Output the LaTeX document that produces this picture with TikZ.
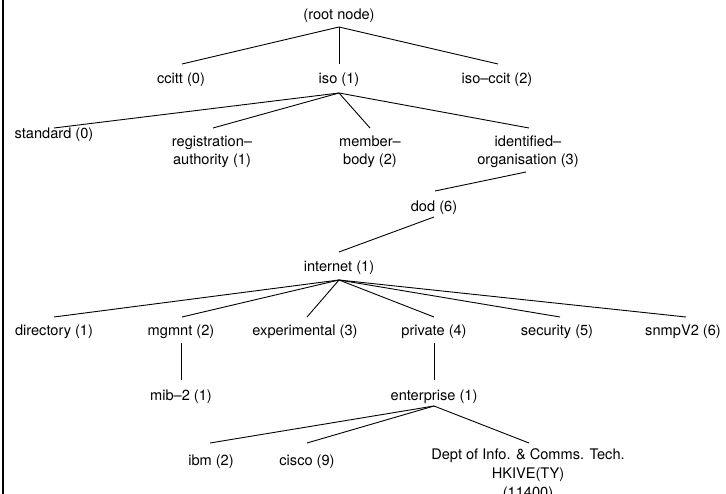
\documentclass[tikz,border=0pt]{standalone}
\usepackage{fontspec}
\setmainfont{TeX Gyre Heros}
\begin{document}
\begin{tikzpicture}[x=1pt,y=-1pt,
  lbl/.style={anchor=base, inner sep=0pt, font=\fontsize{14.6}{18}\selectfont, align=center},
  widelbl/.style={lbl, font=\fontsize{14.6}{19}\selectfont},
  edge/.style={line width=0.9pt},
  frame/.style={line width=2.2pt}]
\useasboundingbox (0,0) rectangle (726,494);
\draw[frame] (3,0) -- (3,494);
\node[lbl] (root) at (339,20) {(root node)};
\node[lbl] (ccitt) at (181,84) {ccitt (0)};
\node[lbl] (iso) at (339,84) {iso (1)};
\node[lbl] (isoccit) at (497,84) {iso–ccit (2)};
\node[lbl] (std) at (54,139) {standard (0)};
\node[lbl] (reg) at (212,165) {registration–\\authority (1)};
\node[lbl] (mem) at (370,165) {member–\\body (2)};
\node[lbl] (ident) at (528,165) {identified–\\organisation (3)};
\node[lbl] (dod) at (434,212) {dod (6)};
\node[lbl] (inet) at (339,272) {internet (1)};
\node[lbl] (dir) at (54,336) {directory (1)};
\node[lbl] (mgmt) at (181,336) {mgmnt (2)};
\node[lbl] (exp) at (305,336) {experimental (3)};
\node[lbl] (priv) at (434,336) {private (4)};
\node[lbl] (sec) at (557,336) {security (5)};
\node[lbl] (snmp) at (683,336) {snmpV2 (6)};
\node[lbl] (mib) at (181,400) {mib–2 (1)};
\node[lbl] (ent) at (434,400) {enterprise (1)};
\node[lbl] (ibm) at (211,465) {ibm (2)};
\node[lbl] (cisco) at (307,465) {cisco (9)};
\node[widelbl] (dept) at (528,497) {Dept of Info. \& Comms. Tech.\\HKIVE(TY)\\(11400)};
\begin{scope}[edge]
\draw ([shift={(0,7)}]root.base) -- ([shift={(1,-20)}]ccitt.base);
\draw ([shift={(0,7)}]root.base) -- ([shift={(0,-20)}]iso.base);
\draw ([shift={(0,7)}]root.base) -- ([shift={(1,-20)}]isoccit.base);
\draw ([shift={(0,9)}]iso.base) -- ([shift={(0,-11)}]std.base);
\draw ([shift={(0,9)}]iso.base) -- ([shift={(1,-37)}]reg.base);
\draw ([shift={(0,9)}]iso.base) -- ([shift={(0,-37)}]mem.base);
\draw ([shift={(0,9)}]iso.base) -- ([shift={(1,-37)}]ident.base);
\draw ([shift={(-2,7)}]ident.base) -- ([shift={(1,-21)}]dod.base);
\draw ([shift={(0,5)}]dod.base) -- ([shift={(0,-20)}]inet.base);
\draw ([shift={(0,8)}]inet.base) -- ([shift={(0,-19)}]dir.base);
\draw ([shift={(0,8)}]inet.base) -- ([shift={(1,-19)}]mgmt.base);
\draw ([shift={(0,8)}]inet.base) -- ([shift={(2,-19)}]exp.base);
\draw ([shift={(0,8)}]inet.base) -- ([shift={(0,-19)}]priv.base);
\draw ([shift={(0,8)}]inet.base) -- ([shift={(3,-19)}]sec.base);
\draw ([shift={(0,8)}]inet.base) -- ([shift={(3,-19)}]snmp.base);
\draw ([shift={(0,7)}]mgmt.base) -- ([shift={(0,-20)}]mib.base);
\draw ([shift={(0,7)}]priv.base) -- ([shift={(0,-20)}]ent.base);
\draw ([shift={(0,6)}]ent.base) -- ([shift={(-1,-22)}]ibm.base);
\draw ([shift={(0,6)}]ent.base) -- ([shift={(0,-22)}]cisco.base);
\draw ([shift={(0,6)}]ent.base) -- ([shift={(1,-54)}]dept.base);
\end{scope}
\end{tikzpicture}
\end{document}
